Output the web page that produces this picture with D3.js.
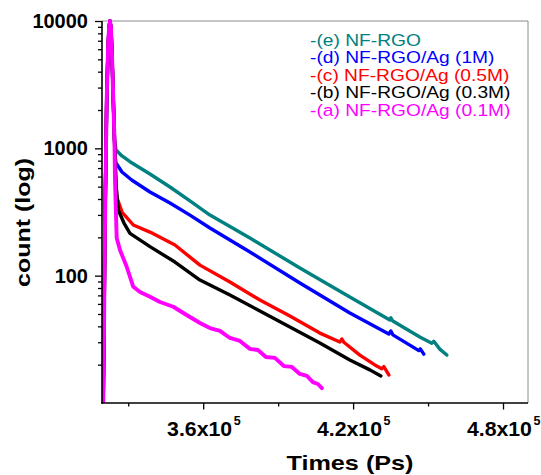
<!DOCTYPE html>
<html><head><meta charset="utf-8">
<script src="https://cdn.jsdelivr.net/npm/d3@7"></script>
<style>body{margin:0;background:#fff}svg{display:block}text{font-family:"Liberation Sans",Arial,sans-serif}</style>
</head><body>
<script>
// ---------- data ----------
const xTicksMajor = [360000, 420000, 480000];
const xTicksMinor = [330000, 390000, 450000];
const xTickLabels = ["3.6x10", "4.2x10", "4.8x10"];
const xTickExponent = "5";
const yTicksMajor = [100, 1000, 10000];
const yTickLabels = ["100", "1000", "10000"];
const yTicksMinor = [20,30,40,50,60,70,80,90,200,300,400,500,600,700,800,900,2000,3000,4000,5000,6000,7000,8000,9000];

const seriesNames = ["-(e) NF-RGO", "-(d) NF-RGO/Ag (1M)", "-(c) NF-RGO/Ag (0.5M)", "-(b) NF-RGO/Ag (0.3M)", "-(a) NF-RGO/Ag (0.1M)"];
const seriesColors = ["#008080", "#0000ff", "#ff0000", "#000000", "#ff00ff"];

// shared excitation peak [time (ps), count]
const peakData = [[319980,10],[320300,37.4],[320580,159],[320820,393],[321380,2400],[321900,5920],[322300,8810],[322700,10000],[323100,8810],[323500,5410],[324020,2400],[324500,1162]];

const decayE = [[325100,970],[327500,871],[330700,785],[338700,629],[346700,497],[354700,386],[362700,299],[378700,197.6],[398700,114.9],[418700,68],[434700,44.8],[435100,46.6],[435900,44],[446700,33],[451500,29.5],[452300,30.5],[454700,26.5],[457500,23.8]];
const decayD = [[324820,839],[325100,767],[327500,652],[331380,564],[338700,454],[346700,372],[354700,299],[362700,236.8],[378700,153.4],[398700,87.6],[418700,50.9],[434300,34.8],[435100,36.8],[435900,34.3],[442700,28.5],[446300,25.8],[446900,26.6],[448300,24.2]];
const decayC = [[324900,676],[325380,417],[327500,316],[332020,250],[338700,220],[348700,174],[358700,121],[370700,89.2],[382700,64.4],[394700,48.2],[406700,35.4],[414700,30.1],[415500,31.8],[416300,30],[422700,23.8],[428700,19.9],[431500,18.6],[432300,19.3],[434300,16.6]];
const decayB = [[325100,515],[326020,328],[328300,259],[330700,215],[338700,169],[348700,128],[358700,92.4],[370700,70.5],[382700,52.8],[394700,39.5],[406700,29.6],[418700,21.8],[426700,18.2],[431100,16.3]];
const decayA = [[324700,564],[325380,198],[326700,159],[329380,117.5],[332020,81.8],[334700,74.4],[338700,68.4],[342700,62.1],[348020,57],[352700,50],[358700,42.5],[362700,38.8],[366700,36.8],[370700,32.4],[374700,30.7],[378700,26.6],[381900,26.1],[385100,23.0],[388700,22.6],[392300,19.5],[395500,19.2],[398700,16.9],[401500,16.3],[403900,14.6],[405900,14.1],[407500,13.1]];
const decays = [decayE, decayD, decayC, decayB, decayA];

// ---------- layout ----------
const W = 541, H = 475;
const L = 102, R = 528, T = 21, B = 403;
const svg = d3.select("body").append("svg").attr("width", W).attr("height", H);
svg.append("rect").attr("width", W).attr("height", H).attr("fill", "#fff");

const x = d3.scaleLinear().domain([319500, 490000]).range([L, R]);
const y = d3.scaleLog().domain([10, 10000]).range([B, T]);

svg.append("clipPath").attr("id", "clip").append("rect")
  .attr("x", L).attr("y", T - 2).attr("width", R - L).attr("height", B - T + 2);

// frame (top/right gray)
svg.append("line").attr("x1", L).attr("x2", R).attr("y1", T).attr("y2", T).attr("stroke", "#8c8c8c").attr("stroke-width", 1);
svg.append("line").attr("x1", R).attr("x2", R).attr("y1", T).attr("y2", B).attr("stroke", "#8c8c8c").attr("stroke-width", 1);

// series
const line = d3.line().x(d => x(d[0])).y(d => y(d[1]));
const plot = svg.append("g").attr("clip-path", "url(#clip)");
decays.forEach((dec, i) => {
  plot.append("path")
    .datum(peakData.concat(dec))
    .attr("fill", "none")
    .attr("stroke", seriesColors[i])
    .attr("stroke-width", i === 4 ? 3.9 : 3.4)
    .attr("stroke-linejoin", "round")
    .attr("stroke-linecap", "round")
    .attr("d", line);
});

// y axis
const yMinor = svg.append("g").attr("transform", `translate(${L},0)`)
  .call(d3.axisLeft(y).tickValues(yTicksMinor).tickSize(4).tickFormat(""));
const yMajor = svg.append("g").attr("transform", `translate(${L},0)`)
  .call(d3.axisLeft(y).tickValues(yTicksMajor).tickSize(7).tickPadding(7)
    .tickFormat((d, i) => yTickLabels[i]));
[yMinor, yMajor].forEach(g => {
  g.select(".domain").remove();
  g.selectAll(".tick line").attr("stroke", "#000").attr("stroke-width", 1.3);
});
yMajor.selectAll("text").attr("font-size", 20).attr("font-weight", "bold").attr("fill", "#000")
  .attr("font-family", '"Liberation Sans", Arial, sans-serif');

// x axis
const xMinor = svg.append("g").attr("transform", `translate(0,${B})`)
  .call(d3.axisBottom(x).tickValues(xTicksMinor).tickSize(3.5).tickFormat(""));
const xMajor = svg.append("g").attr("transform", `translate(0,${B})`)
  .call(d3.axisBottom(x).tickValues(xTicksMajor).tickSize(6.5).tickFormat(""));
[xMinor, xMajor].forEach(g => {
  g.select(".domain").remove();
  g.selectAll(".tick line").attr("stroke", "#000").attr("stroke-width", 1.3);
});
xMajor.selectAll(".tick").each(function(d, i) {
  const g = d3.select(this);
  g.append("text").attr("x", -36.6).attr("y", 33).attr("text-anchor", "start")
    .attr("font-size", 19.5).attr("font-weight", "bold").attr("fill", "#000")
    .attr("textLength", 65).attr("lengthAdjust", "spacingAndGlyphs")
    .text(xTickLabels[i]);
  g.append("text").attr("x", 30).attr("y", 22).attr("text-anchor", "start")
    .attr("font-size", 12.5).attr("font-weight", "bold").attr("fill", "#000")
    .text(xTickExponent);
});

// axis lines (black)
svg.append("line").attr("x1", L).attr("x2", L).attr("y1", T).attr("y2", B + 0.8).attr("stroke", "#000").attr("stroke-width", 1.6);
svg.append("line").attr("x1", L - 0.8).attr("x2", R).attr("y1", B).attr("y2", B).attr("stroke", "#000").attr("stroke-width", 1.6);

// axis titles
svg.append("text").attr("x", 350).attr("y", 470).attr("text-anchor", "middle")
  .attr("font-size", 21).attr("font-weight", "bold")
  .attr("textLength", 127).attr("lengthAdjust", "spacingAndGlyphs")
  .text("Times (Ps)");
svg.append("text").attr("transform", "translate(29.5,222.5) rotate(-90)").attr("text-anchor", "middle")
  .attr("font-size", 20).attr("font-weight", "bold")
  .attr("textLength", 129).attr("lengthAdjust", "spacingAndGlyphs")
  .text("count (log)");

// legend
seriesNames.forEach((name, i) => {
  svg.append("g").attr("transform", `translate(310,${45.5 + i * 17.5}) scale(1.13,1)`)
    .append("text").attr("x", 0).attr("y", 0)
    .attr("font-size", 17).attr("fill", seriesColors[i])
    .text(name);
});
</script>
</body></html>
